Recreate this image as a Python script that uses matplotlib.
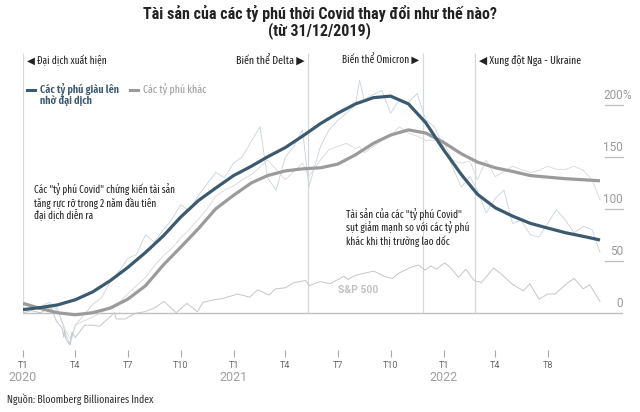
import matplotlib
matplotlib.use("Agg")
import numpy as np
import pandas as pd
import matplotlib.pyplot as plt
from matplotlib import font_manager
from matplotlib.lines import Line2D

# ---------------- data ----------------
trend_dates = [f"2020-{m:02d}-01" for m in range(1, 13)] + \
              [f"2021-{m:02d}-01" for m in range(1, 13)] + \
              [f"2022-{m:02d}-01" for m in range(1, 10)] + ["2022-09-30"]
covid_trend = [3, 5, 7.5, 12.5, 20, 31, 43.5, 58, 74, 92, 108, 120,
               132, 141, 150, 159, 170, 182, 192, 201, 207, 208.5, 201, 183,
               157, 133, 114, 101, 93, 86, 81.5, 77, 73.5, 70]
others_trend = [9, 4, 0, -2, 0, 4.5, 13, 26, 46, 63, 81, 100,
                113, 125, 132, 136.5, 138.5, 139.5, 143, 152, 163, 171, 176, 173,
                164, 153, 145, 139.5, 136, 132, 130.5, 129, 128, 127]

raw_dates = ["2020-01-01", "2020-01-16", "2020-02-01", "2020-02-16", "2020-03-01", "2020-03-16", "2020-03-23",
             "2020-04-01", "2020-04-16", "2020-05-01", "2020-05-16", "2020-06-01", "2020-06-16", "2020-07-01",
             "2020-07-16", "2020-08-01", "2020-08-16", "2020-09-01", "2020-09-16", "2020-10-01", "2020-10-16",
             "2020-11-01", "2020-11-16", "2020-12-01", "2020-12-16",
             "2021-01-01", "2021-01-16", "2021-02-01", "2021-02-16", "2021-03-01", "2021-03-16", "2021-04-01",
             "2021-04-16", "2021-05-01", "2021-05-12", "2021-06-01", "2021-06-16", "2021-07-01", "2021-07-16",
             "2021-08-01", "2021-08-08", "2021-08-16", "2021-09-01", "2021-09-16", "2021-10-01", "2021-10-16",
             "2021-11-01", "2021-11-16", "2021-12-01", "2021-12-16",
             "2022-01-01", "2022-01-16", "2022-02-01", "2022-02-16", "2022-03-01", "2022-03-16", "2022-04-01",
             "2022-04-16", "2022-05-01", "2022-05-16", "2022-06-01", "2022-06-16", "2022-07-01", "2022-07-16",
             "2022-08-01", "2022-08-16", "2022-09-01", "2022-09-16", "2022-09-30"]
covid_raw = [2, 4, 6, 10, 4, -22, -30, -12, -2, 8, 14, 30, 40, 52, 56, 75, 68, 80, 90, 104, 98, 113, 124, 135, 130,
             144, 150, 165, 179, 130, 118, 150, 160, 176, 121, 160, 176, 185, 192, 200, 224, 205, 210, 214, 192,
             205, 202, 211, 186, 179,
             160, 141, 121, 131, 118, 96, 110, 118, 86, 89, 75, 73, 86, 99, 89, 77, 83, 80, 58]
others_raw = [2, 4, 5, 8, 2, -18, -25, -12, -8, -4, 0, 6, 10, 18, 26, 34, 45, 55, 62, 72, 80, 90, 100, 112, 118,
              122, 128, 133, 140, 147, 138, 128, 136, 144, 131, 147, 157, 160, 163, 158, 160, 154, 160, 166, 170,
              179, 173, 170, 166, 166,
              166, 147, 144, 146, 128, 147, 131, 136, 141, 138, 135, 137, 141, 138, 138, 141, 137, 128, 109]

sp_dates = ["2020-01-01", "2020-01-16", "2020-01-31", "2020-02-19", "2020-02-28", "2020-03-09", "2020-03-12",
            "2020-03-13", "2020-03-16", "2020-03-23", "2020-03-26", "2020-04-01", "2020-04-17", "2020-05-01",
            "2020-05-13", "2020-06-08", "2020-06-11", "2020-06-26", "2020-07-15", "2020-07-31", "2020-08-18",
            "2020-09-02", "2020-09-23", "2020-10-12", "2020-10-30", "2020-11-09", "2020-11-24", "2020-12-15",
            "2021-01-08", "2021-01-29", "2021-02-12", "2021-03-04", "2021-03-15", "2021-04-01", "2021-04-16",
            "2021-05-07", "2021-05-12", "2021-06-01", "2021-06-18", "2021-07-12", "2021-07-19", "2021-08-01",
            "2021-08-16", "2021-09-02", "2021-09-20", "2021-10-04", "2021-10-15", "2021-11-02", "2021-11-18",
            "2021-11-30", "2021-12-10", "2021-12-20", "2022-01-03", "2022-01-14", "2022-01-27", "2022-02-09",
            "2022-02-23", "2022-03-08", "2022-03-29", "2022-04-14", "2022-04-29", "2022-05-20", "2022-05-31",
            "2022-06-16", "2022-07-01", "2022-07-14", "2022-08-01", "2022-08-16", "2022-09-01", "2022-09-12",
            "2022-09-30"]
sp_values = [0, 2, 0, 5, -8, -15, -24, -17, -26, -31, -19, -24, -12, -12, -13, 0, -6, -6, -0.5, 1, 5,
             11, 0, 9, 1, 10, 12, 14, 18, 15, 22, 17, 23, 24, 29, 31, 26, 30, 28, 35, 32, 36,
             38, 40, 35, 33, 38, 43, 46, 41, 45, 42, 48, 43, 34, 42, 31, 29, 43, 36, 28, 21, 28,
             13, 18, 18, 27, 33, 23, 27, 11]

event_dates = ["2020-01-01", "2021-05-10", "2021-11-26", "2022-02-24"]
event_labels = ["◀ Đại dịch xuất hiện", "Biến thể Delta ▶", "Biến thể Omicron ▶", "◀ Xung đột Nga - Ukraine"]
event_side = ["right", "left", "left", "right"]

xtick_dates = ["2020-01-01", "2020-04-01", "2020-07-01", "2020-10-01", "2021-01-01", "2021-04-01",
               "2021-07-01", "2021-10-01", "2022-01-01", "2022-04-01", "2022-07-01"]
xtick_labels = ["T1", "T4", "T7", "T10", "T1", "T4", "T7", "T10", "T1", "T4", "T8"]
year_dates = ["2020-01-01", "2021-01-01", "2022-01-01"]
year_labels = ["2020", "2021", "2022"]
yticks = [0, 50, 100, 150, 200]

title = "Tài sản của các tỷ phú thời Covid thay đổi như thế nào?\n(từ 31/12/2019)"
legend_labels = ["Các tỷ phú giàu lên\nnhờ đại dịch", "Các tỷ phú khác"]
note1 = "Các \"tỷ phú Covid\" chứng kiến tài sản\ntăng rực rỡ trong 2 năm đầu tiên\nđại dịch diễn ra"
note2 = "Tài sản của các \"tỷ phú Covid\"\nsụt giảm mạnh so với các tỷ phú\nkhác khi thị trường lao dốc"
source = "Nguồn: Bloomberg Billionaires Index"

# ---------------- style ----------------
avail = {f.name for f in font_manager.fontManager.ttflist}
def pick(cands):
    for c in cands:
        if c in avail:
            return c
    return "DejaVu Sans"
title_font = pick(["Roboto Condensed", "IBM Plex Sans Condensed", "Liberation Sans Narrow", "Roboto"])
small_font = pick(["Fira Sans Extra Condensed", "Barlow Semi Condensed", "Roboto Condensed",
                   "Liberation Sans Narrow", "Roboto"])
TFAM = [title_font, "DejaVu Sans"]
SFAM = [small_font, "DejaVu Sans"]
plt.rcParams["font.family"] = TFAM

DARK = "#3c5a6f"
GRAY = "#9b9b9b"
RAW_BLUE = "#c7d3dd"
RAW_GRAY = "#d8d8d8"
SP = "#c6c6c6"
VLINE = "#d3d9de"
TXT = "#222222"

fig = plt.figure(figsize=(6.4, 4.12), dpi=100)
ax = fig.add_axes([23 / 640, 1 - 347 / 412, 600 / 640, 294 / 412])
ax.set_xlim(pd.Timestamp("2020-01-01"), pd.Timestamp("2022-11-09"))
ax.set_ylim(-33, 250)
for s in ["top", "right", "left"]:
    ax.spines[s].set_visible(False)
ax.spines["bottom"].set_position(("outward", 2))
ax.spines["bottom"].set_visible(False)
ax.set_yticks([])
ax.patch.set_alpha(0)

td = pd.to_datetime(trend_dates)
rd = pd.to_datetime(raw_dates)
sd = pd.to_datetime(sp_dates)

fits = []  # (text artist, target width px, target line pitch px or None)

# event lines
ev = pd.to_datetime(event_dates)
ax.vlines(ev, 0, 250, color=VLINE, lw=0.9, zorder=1)
ev_widths = [80, 69, 77, 103]
for d, lab, side, w in zip(ev, event_labels, event_side, ev_widths):
    off = 3 if side == "right" else -2.5
    t = ax.annotate(lab, xy=(d, 243), xytext=(off, 0), textcoords="offset points",
                    ha="left" if side == "right" else "right", va="center",
                    fontsize=7, color=TXT, family=SFAM)
    fits.append((t, w, None))

# zero line
ax.axhline(0, color="#c0c0c0", lw=1.0, zorder=1)

# lines
ax.plot(rd, others_raw, color=RAW_GRAY, lw=0.6, zorder=2)
ax.plot(rd, covid_raw, color=RAW_BLUE, lw=0.6, zorder=2)
ax.plot(sd, sp_values, color=SP, lw=0.7, zorder=2)
ax.plot(td, others_trend, color=GRAY, lw=2.3, zorder=3, solid_capstyle="butt", solid_joinstyle="round")
ax.plot(td, covid_trend, color=DARK, lw=2.3, zorder=4, solid_capstyle="butt", solid_joinstyle="round")

# y tick labels on right with underlines
ytr = ax.get_yaxis_transform()
for v in yticks:
    if v != 0:
        ax.plot([0.97, 1.0], [v, v], transform=ytr, color="#bdbdbd", lw=0.9, clip_on=False)
    ax.annotate(str(v), xy=(1.0, v), xycoords=ytr, xytext=(0, 2), textcoords="offset points",
                ha="right", va="bottom", fontsize=8.5, color="#9a9a9a", family="Roboto")
    if v == yticks[-1]:
        ax.annotate("%", xy=(1.0, v), xycoords=ytr, xytext=(-0.5, 2), textcoords="offset points",
                    ha="left", va="bottom", fontsize=8.5, color="#9a9a9a", family="Roboto",
                    annotation_clip=False)

# x ticks
ax.set_xticks(pd.to_datetime(xtick_dates))
ax.set_xticklabels(xtick_labels, fontsize=6.5, color="#666666", family="Roboto")
ax.tick_params(axis="x", length=5, width=0.8, color="#aaaaaa", pad=3)
xtr = ax.get_xaxis_transform()
for d, lab in zip(pd.to_datetime(year_dates), year_labels):
    ax.text(d, -0.105, lab, transform=xtr, ha="center", va="center", fontsize=9, color="#a0a0a0",
            family="Roboto")

# legend keys (manual, placed in axes space)
atr = ax.transAxes
def ax_xy(px, py):
    return ((px - 23) / 600, (347 - py) / 294)
for (x0, x1, y0), col, lab, fw, w in [((27, 35, 90), DARK, legend_labels[0], "semibold", 79),
                                       ((130, 138, 90), GRAY, legend_labels[1], "normal", 64)]:
    a = ax_xy(x0, y0); b = ax_xy(x1, y0)
    ax.add_line(Line2D([a[0], b[0]], [a[1], b[1]], transform=atr, color=col, lw=2.2))
    tp = ax_xy(x1 + 5, y0 - 6.5)
    t = ax.text(tp[0], tp[1], lab, transform=atr, ha="left", va="top", fontsize=7, color=col,
                fontweight=fw, family=SFAM)
    fits.append((t, w, 12.5))

# notes
t = ax.annotate(note1, xy=(pd.Timestamp("2020-01-20"), 124), ha="left", va="top", fontsize=7, color=TXT,
                family=SFAM)
fits.append((t, 142, 13))
t = ax.annotate(note2, xy=(pd.Timestamp("2021-07-15"), 100), ha="left", va="top", fontsize=7, color=TXT,
                family=SFAM)
fits.append((t, 123, 13))
t = ax.annotate("S&P 500", xy=(pd.Timestamp("2021-07-01"), 22), ha="left", va="center", fontsize=7.5,
                color="#c2c2c2", fontweight="bold", family="Roboto")

# title & source
t = fig.text(0.5, 1 - 22 / 412, title, ha="center", va="center", fontsize=10.5, fontweight="bold",
             color=TXT, family=TFAM)
fits.append((t, 354, 19))
t = fig.text(7 / 640, 1 - 399 / 412, source, ha="left", va="center", fontsize=7, color="#333333",
             family=SFAM)
fits.append((t, 148, None))

# scale text sizes so their widths match the reference layout
renderer = fig.canvas.get_renderer()
for t, w, pitch in fits:
    cur = t.get_window_extent(renderer).width
    if cur > 0:
        fs = t.get_fontsize() * w / cur
        t.set_fontsize(fs)
        if pitch is not None:
            t.set_linespacing(pitch / (fs * 100 / 72 * 1.17))

fig.savefig("out.png", dpi=100)
